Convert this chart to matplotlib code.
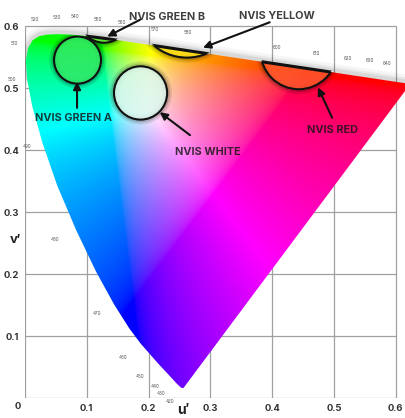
import numpy as np
import matplotlib
matplotlib.use('Agg')
import matplotlib.pyplot as plt
from matplotlib.path import Path
from matplotlib.patches import PathPatch, Circle

# CIE 1976 spectral locus (2 deg observer), u' and v'
locus_nm = [380, 400, 420, 430, 440, 450, 460, 465, 470, 475, 480, 485, 490, 495,
            500, 505, 510, 515, 520, 525, 530, 535, 540, 545, 550, 555, 560, 570,
            580, 590, 600, 610, 620, 630, 640, 650, 700]
locus_u = [0.2568, 0.2557, 0.2522, 0.2461, 0.2347, 0.2161, 0.1877, 0.1690, 0.1441,
           0.1147, 0.0828, 0.0521, 0.0282, 0.0119, 0.0035, 0.0014, 0.0046, 0.0123,
           0.0231, 0.0360, 0.0501, 0.0643, 0.0792, 0.0953, 0.1127, 0.1319, 0.1531,
           0.2026, 0.2623, 0.3315, 0.4035, 0.4692, 0.5203, 0.5565, 0.5830, 0.6005,
           0.6234]
locus_v = [0.0166, 0.0159, 0.0169, 0.0226, 0.0350, 0.0549, 0.0871, 0.1119, 0.1510,
           0.2044, 0.2708, 0.3427, 0.4117, 0.4698, 0.5131, 0.5432, 0.5638, 0.5770,
           0.5837, 0.5861, 0.5868, 0.5865, 0.5856, 0.5841, 0.5821, 0.5796, 0.5766,
           0.5694, 0.5604, 0.5501, 0.5393, 0.5296, 0.5219, 0.5165, 0.5125, 0.5099,
           0.5065]

# wavelength marks along the locus
wl_text = ['520', '530', '540', '550', '560', '570', '580', '600', '610', '620', '630', '640',
           '510', '500', '490', '480', '470', '460', '450', '440', '430', '420']
wl_u = [0.016, 0.052, 0.081, 0.117, 0.157, 0.210, 0.264, 0.408, 0.472, 0.523, 0.558, 0.586,
        -0.018, -0.021, 0.003, 0.049, 0.117, 0.159, 0.186, 0.210, 0.220, 0.235]
wl_v = [0.611, 0.613, 0.615, 0.611, 0.606, 0.594, 0.589, 0.566, 0.555, 0.548, 0.544, 0.539,
        0.571, 0.513, 0.405, 0.256, 0.137, 0.066, 0.034, 0.018, 0.008, -0.006]

# NVIS colour regions: centre u', centre v', radius
nvis_names = ['NVIS GREEN A', 'NVIS GREEN B', 'NVIS YELLOW', 'NVIS WHITE', 'NVIS RED']
nvis_u = [0.085, 0.128, 0.262, 0.187, 0.443]
nvis_v = [0.545, 0.615, 0.632, 0.492, 0.560]
nvis_r = [0.038, 0.042, 0.083, 0.043, 0.062]
nvis_fill = ['#33e866', '#6cf040', '#ffe21c', '#dcf7ee', '#ff5a2c']

# label position and arrow tip for each region
label_u = [0.078, 0.230, 0.408, 0.296, 0.498]
label_v = [0.452, 0.615, 0.616, 0.397, 0.432]
tail_u = [0.0842, 0.186, 0.396, 0.267, 0.497]
tail_v = [0.468, 0.610, 0.606, 0.424, 0.452]
tip_u = [0.0842, 0.133, 0.288, 0.218, 0.474]
tip_v = [0.510, 0.583, 0.565, 0.461, 0.501]

grid_vals = [0, 0.1, 0.2, 0.3, 0.4, 0.5, 0.6]
tick_vals = [0.1, 0.2, 0.3, 0.4, 0.5, 0.6]

plt.rcParams['font.family'] = ['Inter', 'DejaVu Sans']

fig = plt.figure(figsize=(4.06, 4.18), dpi=100)
ax = fig.add_axes([25 / 406, 20 / 418, 381 / 406, 398 / 418])
ax.set_xlim(0, 381 / 618)
ax.set_ylim(0, 398 / 620)
for s in ax.spines.values():
    s.set_visible(False)

ax.vlines(grid_vals, 0, 0.6, color='#a0a0a0', lw=0.9, zorder=0)
ax.hlines(grid_vals, 0, 0.6, color='#a0a0a0', lw=0.9, zorder=0)

# colour field from u'v' -> XYZ -> sRGB
uu, vv = np.meshgrid(np.linspace(0, 0.63, 640), np.linspace(0, 0.6, 610))
den = 6 * uu - 16 * vv + 12
cx = 9 * uu / den
cy = np.maximum(4 * vv / den, 1e-4)
X = cx / cy
Z = (1 - cx - cy) / cy
R = 3.2406 * X - 1.5372 - 0.4986 * Z
G = -0.9689 * X + 1.8758 + 0.0415 * Z
B = 0.0557 * X - 0.2040 + 1.0570 * Z
rgb = np.clip(np.dstack([R, G, B]), 0, None)
rgb = rgb / rgb.max(axis=2, keepdims=True)
rgb = np.where(rgb <= 0.0031308, 12.92 * rgb, 1.055 * rgb ** (1 / 2.4) - 0.055)
rgb = np.clip(rgb, 0, 1)

verts = list(zip(locus_u, locus_v)) + [(locus_u[0], locus_v[0])]
locus_path = Path(verts, closed=True)
locus_patch = PathPatch(locus_path, fc='none', ec='none')
ax.add_patch(locus_patch)

# soft shadow along the top edge
for lw, a in [(10, 0.035), (6, 0.05), (3, 0.07)]:
    ax.plot(locus_u[14:], np.array(locus_v[14:]) + 0.003, color='black', lw=lw,
            alpha=a, zorder=0.5, solid_capstyle='round')

im = ax.imshow(rgb, extent=[0, 0.63, 0, 0.6], origin='lower', interpolation='bilinear',
               zorder=1, aspect='auto')
im.set_clip_path(locus_patch)

for i in range(len(nvis_names)):
    c = (nvis_u[i], nvis_v[i])
    for lw, a in [(7, 0.10), (4, 0.16)]:
        halo = Circle(c, nvis_r[i], fill=False, ec='black', lw=lw, alpha=a, zorder=2)
        ax.add_patch(halo)
        halo.set_clip_path(locus_patch)
    disc = Circle(c, nvis_r[i], fc=nvis_fill[i], alpha=0.85, ec='none', zorder=2.5)
    ax.add_patch(disc)
    disc.set_clip_path(locus_patch)
    ring = Circle(c, nvis_r[i], fill=False, ec='#111111', lw=1.5, zorder=3)
    ax.add_patch(ring)
    ring.set_clip_path(locus_patch)
    top = PathPatch(locus_path, fill=False, ec='#111111', lw=2.2, zorder=3)
    ax.add_patch(top)
    top.set_clip_path(ring)

    ax.annotate('', xy=(tip_u[i], tip_v[i]), xytext=(tail_u[i], tail_v[i]),
                arrowprops=dict(arrowstyle='-|>', color='#111111', lw=1.5,
                                mutation_scale=11, shrinkA=0, shrinkB=0), zorder=4)
    ax.text(label_u[i], label_v[i], nvis_names[i], ha='center', va='center',
            fontsize=7.8, fontweight='bold', color='#151515', alpha=0.82, zorder=5)

for t, u, v in zip(wl_text, wl_u, wl_v):
    ax.text(u, v, t, ha='center', va='center', fontsize=3.3, color='#555555',
            clip_on=False, zorder=5)

ax.set_xticks(tick_vals)
ax.set_yticks(tick_vals)
ax.set_xticklabels([f'{t:.1f}' for t in tick_vals])
ax.set_yticklabels([f'{t:.1f}' for t in tick_vals])
ax.tick_params(length=0, labelsize=6.8, labelcolor='#333333', pad=4)
for lab in ax.get_xticklabels() + ax.get_yticklabels():
    lab.set_fontweight('bold')
ax.text(-0.012, -0.013, '0', ha='center', va='center', fontsize=6.8, fontweight='bold',
        color='#333333', clip_on=False)
ax.text(0.256, -0.02, 'u′', ha='center', va='center', fontsize=10, fontweight='bold',
        color='#222222', clip_on=False)
ax.text(-0.015, 0.255, 'v′', ha='center', va='center', fontsize=9.5, fontweight='bold',
        color='#222222', clip_on=False)

fig.savefig('out.png', dpi=100)
